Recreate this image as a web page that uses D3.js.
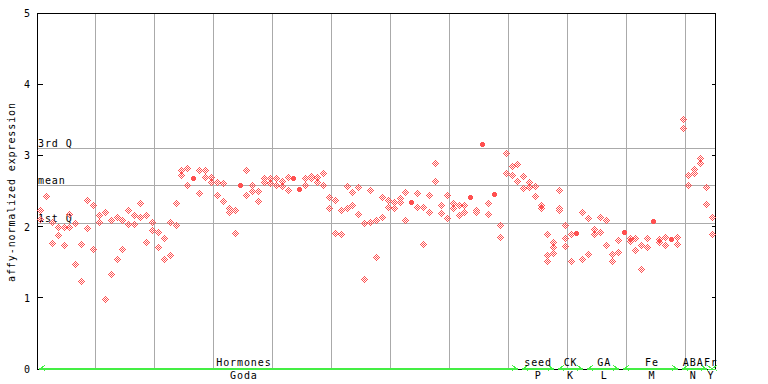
<!DOCTYPE html>
<html><head><meta charset="utf-8">
<script src="https://cdn.jsdelivr.net/npm/d3@7"></script>
<style>
html,body{margin:0;padding:0;background:#fff;}
svg{display:block;}
text{font-family:"DejaVu Sans Mono",monospace;font-size:10px;letter-spacing:0.9px;fill:#000;}
</style></head><body>
<svg id="c" width="768" height="384"></svg>
<script>
// ---------- data ----------
const nSamples = 115;
const rep1 = [2.23,2.43,2.07,2.00,2.00,2.18,2.05,1.75,2.37,2.30,
 2.16,2.20,2.09,2.13,2.09,2.24,2.16,2.33,2.16,2.06,
 1.92,1.84,2.07,2.33,2.79,2.83,null,2.79,2.80,2.69,
 2.62,2.61,2.26,2.24,null,2.79,2.59,2.50,2.68,2.68,
 2.68,2.64,2.69,null,null,2.68,2.71,2.69,2.75,2.41,
 2.38,2.24,2.57,2.48,2.55,2.05,2.52,2.09,2.42,2.37,
 2.34,2.40,2.48,null,2.47,2.27,2.44,2.89,2.30,2.45,
 2.33,2.31,2.30,null,2.24,null,2.33,null,2.02,3.04,
 2.85,2.88,2.71,2.62,2.57,2.31,1.89,1.78,2.52,2.02,
 1.89,null,2.21,2.12,1.96,2.14,2.09,1.61,1.81,null,
 1.84,1.84,1.74,1.84,null,1.83,1.85,null,1.85,3.51,
 2.73,2.81,2.97,2.55,2.14];
const rep2 = [2.10,null,1.77,1.88,1.74,2.00,1.47,1.23,1.98,1.68,
 2.07,0.99,1.34,1.54,1.68,2.03,2.03,2.13,1.79,1.95,
 1.71,1.54,1.60,2.02,2.72,2.58,null,2.47,2.69,2.62,
 2.45,2.36,2.20,1.91,null,2.44,2.50,2.36,2.62,2.61,
 2.59,2.57,2.51,null,null,2.58,2.68,2.62,2.58,2.26,
 1.91,1.89,2.26,2.30,2.17,1.26,2.07,1.58,2.14,2.27,
 2.26,2.34,2.09,null,2.27,1.75,2.21,2.64,2.19,2.12,
 2.26,2.16,2.21,null,2.21,null,2.17,null,1.86,2.75,
 2.73,2.64,2.54,2.55,2.43,2.26,1.60,1.71,2.26,1.84,
 1.51,null,1.54,1.61,1.89,1.92,1.74,1.51,1.64,null,
 1.80,1.67,1.41,1.71,null,1.79,1.74,null,1.75,3.38,
 2.58,2.75,2.89,2.32,1.89];
const rep3Index = [86,87,88,89];
const rep3 = [1.51,1.63,2.23,1.73];
const highlightIndex = [26,34,43,44,63,73,75,77,91,99,104,107];
const highlightValue = [2.68,2.59,2.68,2.53,2.34,2.42,3.16,2.46,1.91,1.93,2.08,1.82];

const yTicks = [0,1,2,3,4,5];
const refLabels = ["3rd Q","mean","1st Q"];
const refValues = [3.10,2.58,2.04];

const categories = ["Hormones","seed","CK","GA","Fe","ABA","Fr"];
const subLabels  = ["Goda","P","K","L","M","N","Y"];
const catStart   = [0,82,88,93,99,109,114];
const catEnd     = [81,87,92,98,108,113,114];
const catLabelAt = [34.6,84.5,90.0,95.7,103.8,110.8,113.8];
const gridEvery = 10;
const yTitle = "affy-normalized expression";

// ---------- chart ----------
const L = 37, R = 715, T = 13, B = 369;
const svg = d3.select("#c");
const x = d3.scaleLinear().domain([-0.5, nSamples - 0.5]).range([L, R]);
const y = d3.scaleLinear().domain([0, 5]).range([B, T]);
const px = v => Math.floor(v) + 0.5;
const RED = "#ff5050", GRID = "#aaaaaa", GREEN = "#44ee44";

const g = svg.append("g").attr("shape-rendering", "crispEdges");

// vertical grid
const gridPos = d3.range(gridEvery - 0.5, nSamples - 1, gridEvery);
g.selectAll(".vg").data(gridPos).join("line")
  .attr("x1", d => px(x(d))).attr("x2", d => px(x(d)))
  .attr("y1", T).attr("y2", B).attr("stroke", GRID);

// reference lines
g.selectAll(".rl").data(refValues).join("line")
  .attr("x1", L).attr("x2", R)
  .attr("y1", d => px(y(d))).attr("y2", d => px(y(d))).attr("stroke", GRID);
svg.selectAll(".rt").data(refValues).join("text")
  .attr("x", L + 1).attr("y", d => Math.floor(y(d)) - 1)
  .text((d, i) => refLabels[i]);

// frame
g.append("rect").attr("x", px(L)).attr("y", px(T)).attr("width", Math.floor(R) - Math.floor(L))
  .attr("height", Math.floor(B) - Math.floor(T)).attr("fill", "none").attr("stroke", "#000");

// ticks
g.selectAll(".lt").data(yTicks).join("line")
  .attr("x1", L).attr("x2", L + 6)
  .attr("y1", d => px(y(d))).attr("y2", d => px(y(d))).attr("stroke", "#000");
g.selectAll(".rtk").data(yTicks).join("line")
  .attr("x1", R - 3).attr("x2", R)
  .attr("y1", d => px(y(d))).attr("y2", d => px(y(d))).attr("stroke", "#000");
svg.selectAll(".tl").data(yTicks).join("text")
  .attr("x", 31).attr("y", d => Math.round(y(d)) + 4)
  .attr("text-anchor", "end").text(d => d);

// y title
svg.append("text").attr("transform", "translate(15,192) rotate(-90)")
  .attr("text-anchor", "middle").text(yTitle);

// category arrows
const cats = categories.map((c, i) => ({c, s: subLabels[i], a: catStart[i], b: catEnd[i], at: catLabelAt[i]}));
const ag = svg.append("g").attr("stroke", GREEN).attr("fill", "none").attr("shape-rendering", "crispEdges");
cats.forEach(d => {
  const x0 = Math.round(x(d.a - 0.5)) + 2, x1 = Math.round(x(d.b + 0.5)) - 2;
  ag.append("path").attr("stroke-width", 2)
    .attr("d", `M${x0},${B}H${x1}`);
  ag.append("path").attr("stroke-width", 1)
    .attr("d", `M${x0 + 6},${B - 3.5}L${x0 + 1},${B - 0.5}L${x0 + 6},${B + 1.5}M${x1 - 6},${B - 3.5}L${x1 - 1},${B - 0.5}L${x1 - 6},${B + 1.5}`);
});
svg.selectAll(".cl").data(cats).join("text")
  .attr("x", d => x(d.at)).attr("y", B - 3).attr("text-anchor", "middle").text(d => d.c);
svg.selectAll(".sl").data(cats).join("text")
  .attr("x", d => x(d.at)).attr("y", B + 10).attr("text-anchor", "middle").text(d => d.s);

// points
const pts = [];
rep1.forEach((v, i) => { if (v != null) pts.push({i, v, f: false}); });
rep2.forEach((v, i) => { if (v != null) pts.push({i, v, f: false}); });
rep3.forEach((v, k) => pts.push({i: rep3Index[k], v, f: false}));
highlightValue.forEach((v, k) => pts.push({i: highlightIndex[k], v, f: true}));

function diamondPath(cx, cy, filled) {
  let s = "";
  for (let dy = -3; dy <= 3; dy++) for (let dx = -3; dx <= 3; dx++) {
    const m = Math.abs(dx) + Math.abs(dy);
    let on;
    if (filled) on = Math.abs(dx) <= 2 && Math.abs(dy) <= 2 && m <= 3;
    else on = m <= 3 && ((dx + dy) % 2 !== 0);
    if (on) s += `M${cx + dx},${cy + dy}h1v1h-1z`;
  }
  return s;
}
svg.append("g").attr("shape-rendering", "crispEdges").selectAll("path").data(pts).join("path")
  .attr("fill", RED)
  .attr("d", d => diamondPath(Math.round(x(d.i)), Math.round(y(d.v)), d.f));
</script>
</body></html>
